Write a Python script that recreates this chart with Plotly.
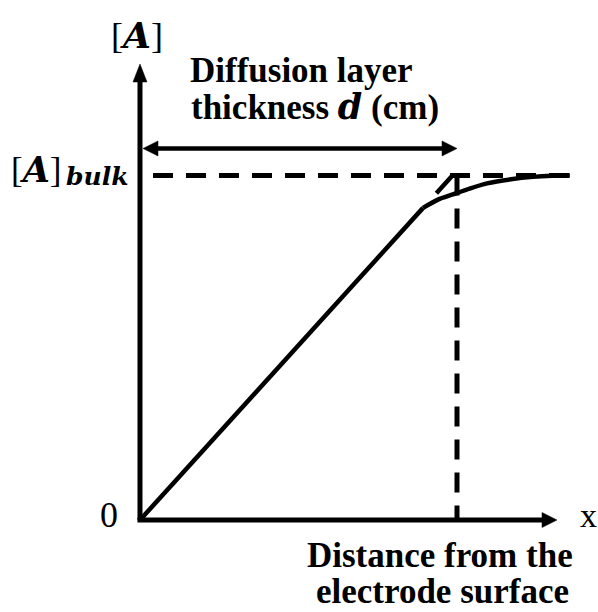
import plotly.graph_objects as go

# Concentration profile of species A near the electrode (x in units of d, [A] in units of [A]bulk)
distance = [0.0, 0.30, 0.60, 0.893, 0.940, 0.987, 1.040, 1.095, 1.170, 1.240, 1.300, 1.356]
concentration = [0.0, 0.304, 0.607, 0.906, 0.930, 0.945, 0.962, 0.977, 0.989, 0.996, 0.999, 1.000]

d_thickness = 1.0       # diffusion layer thickness d
bulk_level = 1.0        # [A]bulk
x_axis_end = 1.3155
y_axis_end = 1.3237
bulk_line_span = [0.041, 1.356]
arrow_level = 1.0784
tangent_span = [0.935, 0.985]

W, H = 598, 612
X0, X1 = -0.4416, 1.4448
Y0, Y1 = -0.267, 1.5094
BLACK = "#000000"

fig = go.Figure()

def seg(xs, ys, width=5, dash="solid", shape="linear"):
    fig.add_trace(go.Scatter(x=xs, y=ys, mode="lines",
                             line=dict(color=BLACK, width=width, dash=dash, shape=shape,
                                       smoothing=0.8 if shape == "spline" else None),
                             hoverinfo="skip", showlegend=False))

# concentration curve: straight initial region, smooth bend into the bulk level
seg(distance[:4], concentration[:4], width=4.5)
seg(distance[3:], concentration[3:], width=4.5, shape="spline")

# linear extrapolation of the initial slope
slope = concentration[3] / distance[3]
seg(tangent_span, [slope * v for v in tangent_span], width=4.5)

# bulk concentration level and diffusion layer boundary (dashed)
seg(bulk_line_span, [bulk_level, bulk_level], width=5, dash="20px,13px")
seg([d_thickness, d_thickness], [bulk_level, 0.0], width=5, dash="20px,13px")

# axes
head_x = 15 / 317
head_y = 18 / 344.5
half_w_x = 7 / 317
half_h_y = 7.5 / 344.5
seg([0, 0], [0, y_axis_end - head_y], width=5)
seg([-0.008, x_axis_end - head_x], [0, 0], width=5)

# double-headed arrow spanning the diffusion layer
seg([0.0095 + head_x, d_thickness - head_x], [arrow_level, arrow_level], width=4.5)

def tri(p1, p2, p3):
    fig.add_shape(type="path", xref="x", yref="y",
                  path=f"M {p1[0]} {p1[1]} L {p2[0]} {p2[1]} L {p3[0]} {p3[1]} Z",
                  fillcolor=BLACK, line=dict(color=BLACK, width=0.5))

tri((0, y_axis_end), (-half_w_x, y_axis_end - head_y), (half_w_x, y_axis_end - head_y))
tri((x_axis_end, 0), (x_axis_end - head_x, half_h_y), (x_axis_end - head_x, -half_h_y))
hy = 7.5 / 344.5
tri((0.0095, arrow_level), (0.0095 + head_x, arrow_level + hy), (0.0095 + head_x, arrow_level - hy))
tri((d_thickness, arrow_level), (d_thickness - head_x, arrow_level + hy), (d_thickness - head_x, arrow_level - hy))

SERIF = "Liberation Serif"
MATH = "DejaVu Serif"

def label(text, px, py, size, xanchor="center", family=SERIF):
    fig.add_annotation(text=text, x=px / W, y=1 - py / H, xref="paper", yref="paper",
                       xanchor=xanchor, yanchor="middle", showarrow=False,
                       font=dict(family=family, size=size, color=BLACK))

A_sym = f'[<span style="font-family:{MATH}"><b><i>A</i></b></span>]'
label(A_sym, 137, 35, 36)
label(A_sym, 63, 169, 35, xanchor="right")
label("<b><i>bulk</i></b>", 64, 176, 25, xanchor="left", family=MATH)
label("<b>Diffusion layer</b>", 301, 70, 35)
label(f'<b>thickness <span style="font-family:{MATH}"><i>d</i></span> (cm)</b>', 315, 106, 35)
label("<b>Distance from the</b>", 440, 555, 35)
label("<b>electrode surface</b>", 443, 591, 35)
label("0", 109, 515, 36)
label("x", 588, 515, 34)

fig.update_layout(
    width=W, height=H,
    margin=dict(l=0, r=0, t=0, b=0),
    paper_bgcolor="white", plot_bgcolor="white",
    xaxis=dict(range=[X0, X1], visible=False, fixedrange=True),
    yaxis=dict(range=[Y0, Y1], visible=False, fixedrange=True),
    showlegend=False,
)

fig.write_html("out.html")
